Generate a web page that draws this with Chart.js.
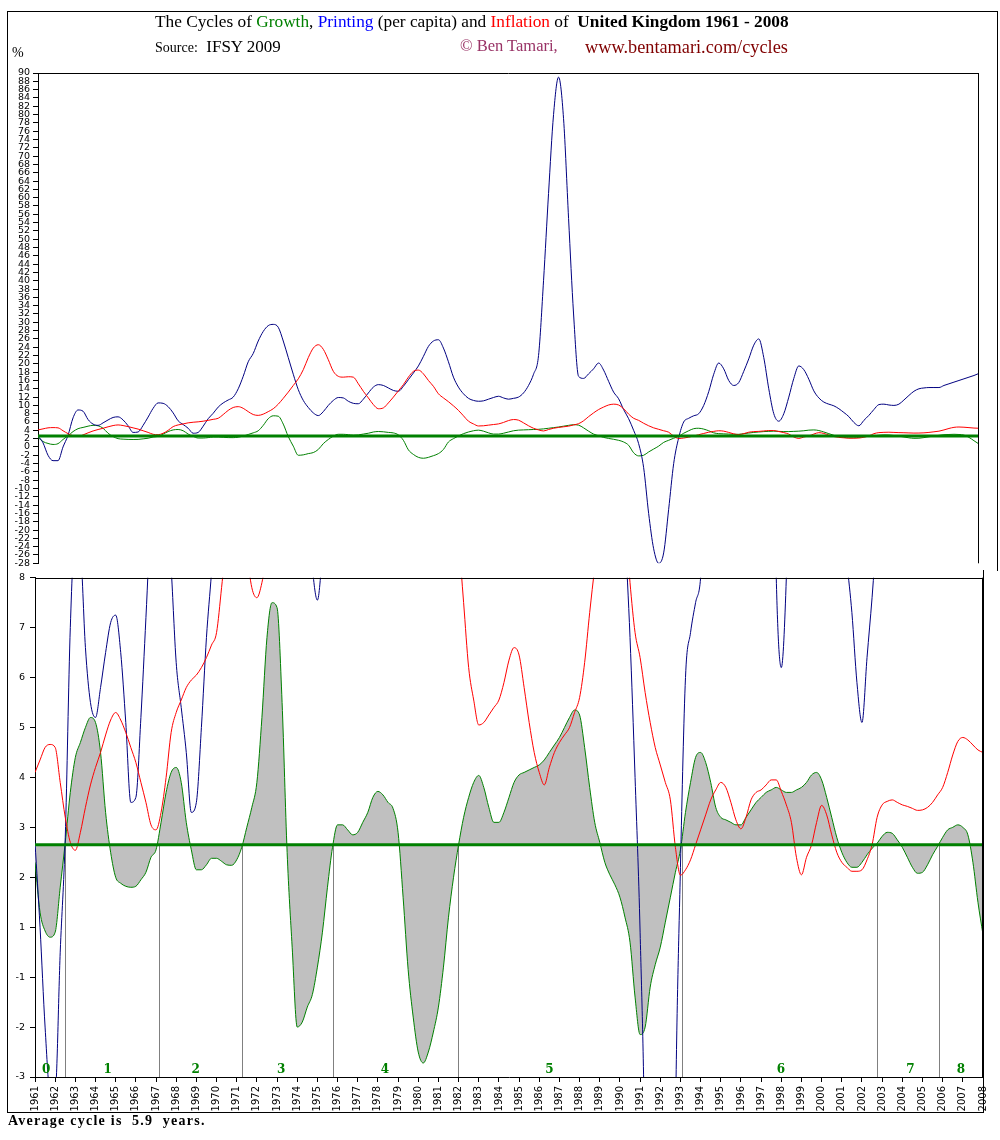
<!DOCTYPE html>
<html>
<head>
<meta charset="utf-8">
<script src="https://cdn.jsdelivr.net/npm/chart.js@4.4.1/dist/chart.umd.min.js"></script>
<style>
body { margin:0; background:#fff; width:1000px; height:1140px; position:relative; font-family:"Liberation Serif", serif; overflow:hidden; }
.abs { position:absolute; white-space:nowrap; z-index:5; line-height:1.15; }
#frameTop { position:absolute; left:7px; top:11px; width:989px; height:559px; border:1px solid #000; border-bottom:none; }
#frameBot { position:absolute; left:7px; top:570px; width:975px; height:542px; border:1px solid #000; border-top:none; }
canvas { position:absolute; left:0; }
</style>
</head>
<body>
<div id="frameTop"></div>
<div id="frameBot"></div>
<canvas id="c1" width="1000" height="572" style="top:0"></canvas>
<canvas id="c2" width="1000" height="550" style="top:567px"></canvas>

<div class="abs" style="left:155px; top:12px; font-size:17.3px;">The Cycles of <span style="color:#008000">Growth</span>, <span style="color:#0000ff">Printing</span> (per capita) and <span style="color:#ff0000">Inflation</span> of &nbsp;<b>United Kingdom 1961 - 2008</b></div>
<div class="abs" style="left:155px; top:37px; font-size:17px;"><span style="font-size:14px">Source:</span>&nbsp; IFSY 2009</div>
<div class="abs" style="left:460px; top:37px; font-size:16.5px; color:#993366;">© Ben Tamari,</div>
<div class="abs" style="left:585px; top:37px; font-size:18.3px; color:#800000;">www.bentamari.com/cycles</div>
<div class="abs" style="left:12px; top:45px; font-size:14px;">%</div>
<div class="abs" style="left:8px; top:1113px; font-size:14px; font-weight:bold; letter-spacing:1.25px;">Average cycle is &nbsp;5.9 &nbsp;years.</div>

<script>
// quarterly readings, 1961.00 .. 2008.00
var growth = [
    2.3, 1.3, 0.85, 0.6,   0.8, 1.8, 2.7, 3.7,   4.4, 4.7, 5.0, 5.2,   5.1, 4.5, 3.3, 2.5,
    2.0, 1.88, 1.82, 1.8,  1.82, 1.95, 2.1, 2.4, 2.55, 3.1, 3.7, 4.1,  4.2, 3.9, 3.1, 2.55,
    2.15, 2.15, 2.25, 2.38, 2.38, 2.32, 2.25, 2.24, 2.35, 2.6, 3.0, 3.4, 3.9, 5.2, 6.8, 7.5,
    7.4, 5.5, 2.5, 0.2,    -2.0, -1.9, -1.6, -1.35, -0.6, 0.8, 1.8, 2.6, 3.05, 3.05, 2.95, 2.85,
    2.9, 3.1, 3.3, 3.6,    3.72, 3.65, 3.5, 3.38, 2.9, 1.6, -0.7, -1.8, -2.5, -2.72, -2.5, -2.1,
    -1.6, -0.6, 1.2, 2.0,  2.65, 3.2, 3.6, 3.9,  4.04, 3.8, 3.4, 3.1,  3.1, 3.3, 3.6, 3.9,
    4.05, 4.1, 4.15, 4.2,  4.25, 4.35, 4.5, 4.65, 4.8, 5.0, 5.2, 5.35, 5.25, 4.6, 3.8, 3.1,
    2.7, 2.3, 2.05, 1.85,  1.6, 1.2, 0.4, -1.4,  -2.15, -2.0, -1.2, -0.5, 0.2, 1.1, 1.6, 2.1,
    2.55, 3.3, 3.9, 4.4,   4.5, 4.3, 3.9, 3.4,   3.2, 3.15, 3.1, 3.05,  3.05, 3.2, 3.35, 3.5,
    3.6, 3.7, 3.75, 3.8,   3.75, 3.7, 3.7, 3.75, 3.8, 3.9, 4.05, 4.1,  3.95, 3.6, 3.2, 2.8,
    2.5, 2.3, 2.2, 2.2,    2.3, 2.45, 2.58, 2.68, 2.82, 2.9, 2.88, 2.75, 2.6, 2.4, 2.2, 2.08,
    2.1, 2.25, 2.45, 2.62, 2.8, 2.95, 3.0, 3.05, 3.0, 2.85, 2.3, 1.5,
    0.7
];
var printing = [
    2.7, 1.0, -2.0, -3.3,  -3.3, 0.0, 2.8, 7.0,  8.9, 8.6, 6.6, 5.5,   5.2, 5.8, 6.5, 7.1,
    7.25, 6.5, 5.1, 3.5,   3.6, 5.2, 7.2, 9.3,   10.6, 10.5, 9.7, 8.2,  6.3, 5.4, 4.5, 3.3,
    3.5, 5.0, 6.8, 8.1,    9.6, 10.6, 11.3, 12.0, 14.0, 17.0, 20.5, 22.5, 25.5, 27.8, 29.2, 29.5,
    28.8, 25.5, 21.5, 17.5, 13.8, 11.2, 9.5, 8.2, 7.55, 8.5, 10.0, 11.2, 11.9, 11.8, 11.0, 10.5,
    10.4, 11.5, 13.0, 14.4, 15.0, 14.8, 14.2, 13.6, 13.4, 14.6, 16.2, 17.8, 19.5, 21.8, 24.2, 25.5,
    25.8, 23.8, 20.5, 16.8, 14.4, 12.8, 11.7, 11.2, 11.0, 11.1, 11.5, 11.9, 12.2, 11.8, 11.5, 11.7,
    12.0, 13.0, 14.8, 17.5, 22.0, 40.0, 61.0, 80.0, 89.0, 79.0, 55.0, 32.0, 17.0, 16.5, 17.6, 18.8,
    20.2, 18.5, 15.8, 13.2, 11.6, 9.0, 6.8, 4.0,  0.8, -5.0, -16.0, -24.5, -28.0, -25.5, -15.0, -4.0,
    2.2, 6.0, 6.9, 7.5,    8.0, 10.0, 13.3, 17.5, 20.2, 18.8, 16.0, 14.8, 15.5, 18.2, 21.2, 24.5,
    26.0, 21.5, 14.0, 8.0, 6.2, 8.0, 12.0, 16.5, 19.5, 18.6, 16.3, 13.5, 11.8, 10.8, 10.3, 9.9,
    9.2, 8.3, 7.3, 5.9,    5.1, 6.4, 7.6, 9.0,   10.2, 10.3, 10.1, 10.0, 10.3, 11.3, 12.4, 13.4,
    14.0, 14.2, 14.3, 14.3, 14.3, 14.8, 15.2, 15.6, 16.0, 16.4, 16.8, 17.2,
    17.7
];
var inflation = [
    4.1, 4.35, 4.6, 4.66,  4.6, 3.9, 3.2, 2.7,   2.54, 2.9, 3.4, 3.85,  4.2, 4.5, 4.85, 5.15,
    5.3, 5.15, 4.9, 4.6,   4.3, 3.9, 3.5, 3.05,  2.95, 3.3, 4.0, 4.9,   5.3, 5.55, 5.8, 5.95,
    6.05, 6.2, 6.4, 6.65,  6.9, 7.8, 8.8, 9.5,   9.7, 9.3, 8.5, 7.8,    7.6, 7.9, 8.5, 9.2,
    10.3, 11.7, 13.2, 14.8, 16.4, 18.6, 21.5, 23.8, 24.6, 23.5, 21.0, 18.2, 17.0, 16.8, 16.9, 16.8,
    15.2, 13.4, 11.8, 10.2, 9.2, 9.4, 10.6, 12.0, 13.5, 15.0, 16.8, 18.2, 18.5, 17.6, 16.0, 14.6,
    12.8, 11.8, 10.9, 9.9, 8.8, 7.5, 6.2, 5.55,  5.05, 5.1, 5.25, 5.4,  5.55, 5.9, 6.35, 6.6,
    6.45, 5.8, 5.1, 4.5,   4.1, 3.85, 4.2, 4.5,  4.7, 4.85, 5.0, 5.3,   5.6, 6.3, 7.3, 8.2,
    9.0, 9.6, 10.1, 10.3,  10.1, 9.2, 7.9, 6.9,  6.4, 5.7, 5.1, 4.6,    4.25, 3.9, 3.55, 2.6,
    2.04, 2.15, 2.35, 2.65, 2.95, 3.25, 3.55, 3.75, 3.9, 3.8, 3.5, 3.15, 2.97, 3.2, 3.55, 3.7,
    3.75, 3.85, 3.95, 3.95, 3.72, 3.45, 3.1, 2.4, 2.05, 2.4, 2.65, 3.1, 3.44, 3.25, 2.85, 2.5,
    2.3, 2.2, 2.12, 2.12,  2.15, 2.35, 2.65, 3.2, 3.45, 3.52, 3.55, 3.5, 3.45, 3.42, 3.38, 3.34,
    3.35, 3.4, 3.5, 3.65,  3.8, 4.1, 4.45, 4.72, 4.8, 4.75, 4.65, 4.55,
    4.5
];
var avgGrowth = 2.65;
var cycleStarts = [1962.49, 1967.16, 1971.28, 1975.79, 1981.99, 1993.08, 2002.75, 2005.83];
var cycleNames = ["0", "1", "2", "3", "4", "5", "6", "7", "8"];
var cycleNameYears = [1961.55, 1964.6, 1968.97, 1973.2, 1978.35, 1986.5, 1997.98, 2004.4, 2006.9];

var years = growth.map(function (v, i) { return 1961 + i / 4; });

// lower chart axis: 8..1 then -1..-3 share one step each
function bpos(v) {
    if (v >= 1) return v;
    if (v <= -1) return v + 1;
    return (v + 1) / 2;
}

function pts(vals, f) {
    return vals.map(function (v, i) { return { x: years[i], y: f ? f(v) : v }; });
}

function line(label, vals, color, order, f) {
    return {
        label: label, data: pts(vals, f), borderColor: color, borderWidth: 1,
        pointRadius: 0, fill: false, cubicInterpolationMode: 'monotone', order: order
    };
}

function avgLine(f) {
    var v = f ? f(avgGrowth) : avgGrowth;
    return { label: 'avg', data: [{ x: 1961, y: v }, { x: 2008, y: v }], borderColor: '#008000',
        borderWidth: 3, pointRadius: 0, fill: false, order: 0 };
}

var framePlugin = {
    id: 'frame',
    afterDraw: function (chart) {
        var a = chart.chartArea, ctx = chart.ctx;
        ctx.save();
        ctx.strokeStyle = '#000';
        ctx.lineWidth = 1;
        ctx.beginPath();
        ctx.moveTo(a.left, Math.round(a.top) + 0.5);
        ctx.lineTo(a.right, Math.round(a.top) + 0.5);
        ctx.moveTo(Math.round(a.right) - 0.5, a.top);
        ctx.lineTo(Math.round(a.right) - 0.5, a.bottom);
        ctx.stroke();
        ctx.restore();
    }
};

var cyclePlugin = {
    id: 'cycles',
    beforeDatasetsDraw: function (chart) {
        var x = chart.scales.x, y = chart.scales.y, ctx = chart.ctx;
        var top = y.getPixelForValue(bpos(avgGrowth));
        ctx.save();
        ctx.strokeStyle = '#808080';
        ctx.lineWidth = 1;
        cycleStarts.forEach(function (yr) {
            var px = Math.round(x.getPixelForValue(yr)) + 0.5;
            ctx.beginPath();
            ctx.moveTo(px, top);
            ctx.lineTo(px, chart.chartArea.bottom);
            ctx.stroke();
        });
        ctx.restore();
    },
    afterDatasetsDraw: function (chart) {
        var x = chart.scales.x, y = chart.scales.y, ctx = chart.ctx;
        ctx.save();
        ctx.fillStyle = '#008000';
        ctx.font = 'bold 12px "DejaVu Serif"';
        ctx.textAlign = 'center';
        ctx.textBaseline = 'middle';
        cycleNames.forEach(function (n, i) {
            ctx.fillText(n, x.getPixelForValue(cycleNameYears[i]), y.getPixelForValue(-1.86));
        });
        ctx.restore();
    }
};

var tickFont = { size: 9.5, family: 'DejaVu Sans' };
var axisGrid = { drawOnChartArea: false, drawTicks: true, tickLength: 5, color: '#000' };

new Chart(document.getElementById('c1').getContext('2d'), {
    type: 'line',
    data: {
        datasets: [
            avgLine(),
            line('Inflation', inflation, '#ff0000', 1),
            line('Printing', printing, '#000080', 2),
            line('Growth', growth, '#008000', 3)
        ]
    },
    options: {
        responsive: false, animation: false,
        layout: { padding: { top: 73, right: 21, bottom: 5, left: 0 } },
        plugins: { legend: { display: false }, tooltip: { enabled: false } },
        scales: {
            x: { type: 'linear', min: 1961, max: 2008, display: false },
            y: {
                min: -28, max: 90,
                ticks: { stepSize: 2, autoSkip: false, font: tickFont, color: '#000', padding: 3,
                    callback: function (v) { return String(v); } },
                grid: axisGrid, border: { color: '#000' },
                afterFit: function (s) { s.width = 38; }
            }
        }
    },
    plugins: [framePlugin]
});

var growthFill = line('Growth', growth, '#008000', 4, bpos);
growthFill.fill = { value: bpos(avgGrowth) };
growthFill.backgroundColor = '#c0c0c0';

new Chart(document.getElementById('c2').getContext('2d'), {
    type: 'line',
    data: {
        datasets: [
            avgLine(bpos),
            line('Inflation', inflation, '#ff0000', 1, bpos),
            line('Printing', printing, '#000080', 2, bpos),
            growthFill
        ]
    },
    options: {
        responsive: false, animation: false,
        layout: { padding: { top: 0, right: 17, bottom: 0, left: 0 } },
        plugins: { legend: { display: false }, tooltip: { enabled: false } },
        scales: {
            x: {
                type: 'linear', min: 1961, max: 2008,
                ticks: { stepSize: 1, autoSkip: false, minRotation: 90, maxRotation: 90,
                    font: { size: 10, family: 'DejaVu Sans' }, color: '#000', padding: 4,
                    callback: function (v) { return String(v); } },
                grid: axisGrid, border: { color: '#000' },
                afterFit: function (s) { s.height = 40; }
            },
            y: {
                min: -2, max: 8,
                ticks: { stepSize: 1, autoSkip: false, font: tickFont, color: '#000', padding: 5,
                    callback: function (v) { return v >= 1 ? String(v) : String(v - 1); } },
                grid: axisGrid, border: { color: '#000' },
                afterFit: function (s) { s.width = 35; }
            }
        }
    },
    plugins: [framePlugin, cyclePlugin]
});
</script>
</body>
</html>
